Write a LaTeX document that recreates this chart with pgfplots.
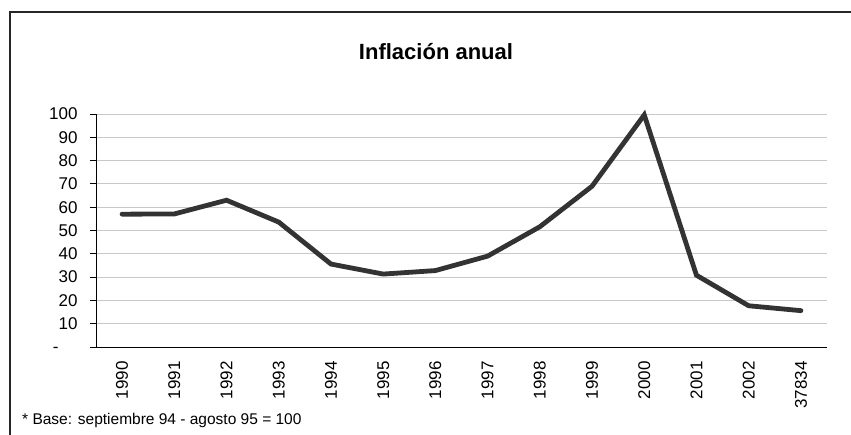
\documentclass[border=0pt]{standalone}
\usepackage{pgfplots}
\pgfplotsset{compat=1.18}
\usepackage{fontspec}
\setmainfont{Liberation Sans}
\definecolor{linegray}{HTML}{333333}
\definecolor{gridgray}{HTML}{C8C8C8}
\begin{document}
\begin{tikzpicture}
\useasboundingbox (0pt,0pt) rectangle (851pt,434pt);
\draw[line width=1.3pt, black!85] (10pt,-20pt) -- (10pt,422pt) -- (880pt,422pt);
\begin{axis}[
  at={(96pt,87pt)}, anchor=south west,
  scale only axis,
  width=731pt, height=233pt,
  xmin=-0.5, xmax=13.5,
  ymin=0, ymax=100,
  axis x line*=bottom, axis y line*=left,
  axis line style={-, black, line width=0.9pt},
  xtick={0,...,13},
  xticklabels={1990,1991,1992,1993,1994,1995,1996,1997,1998,1999,2000,2001,2002,37834},
  xtick style={draw=none},
  minor xtick={-0.5,0.5,...,13.5},
  minor tick length=6pt,
  major tick length=6pt,
  tick align=outside,
  tick style={black, line width=0.9pt},
  ytick={0,10,...,100},
  yticklabels={{-\phantom{00}},10,20,30,40,50,60,70,80,90,100},
  ymajorgrids,
  grid style={gridgray, line width=0.9pt},
  ticklabel style={font=\fontsize{17}{20}\selectfont},
  xticklabel style={yshift=-8pt, rotate=90, anchor=east, inner sep=0pt},
  yticklabel style={xshift=-9pt},
  clip=false,
]
\addplot[linegray, line width=4.8pt, line cap=round] coordinates {
(0,57) (1,57.1) (2,63) (3,53.6) (4,35.6) (5,31.3) (6,32.8) (7,39) (8,51.6) (9,69) (10,99.6) (11,30.8) (12,17.7) (13,15.6)
};
\end{axis}
\node[anchor=base, inner sep=0pt, font=\fontsize{22}{26}\selectfont\bfseries] at (436pt,374.5pt) {Inflación anual};
\node[anchor=base west, inner sep=0pt, font=\fontsize{15.5}{18}\selectfont] at (22pt,10pt) {* Base: septiembre 94 - agosto 95 = 100};
\end{tikzpicture}
\end{document}
